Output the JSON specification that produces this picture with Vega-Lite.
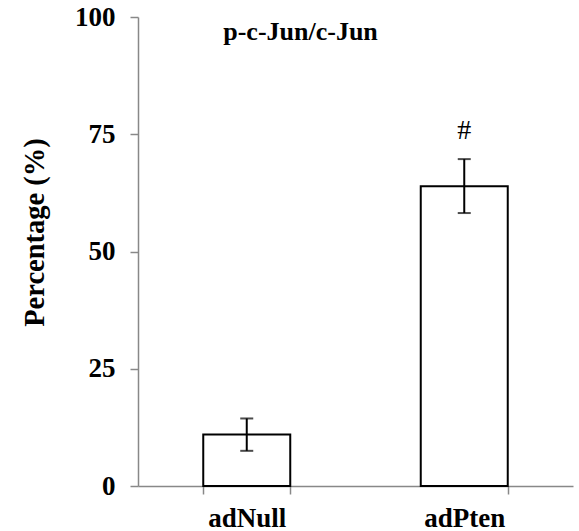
{
  "$schema": "https://vega.github.io/schema/vega-lite/v6.json",
  "width": 435,
  "height": 469,
  "autosize": "none",
  "padding": {"left": 138, "top": 17, "right": 6, "bottom": 45},
  "background": "white",
  "config": {
    "view": {"stroke": null},
    "font": "Liberation Serif",
    "axis": {
      "domainColor": "#888888",
      "tickColor": "#888888",
      "domainWidth": 1.5,
      "tickWidth": 1.5,
      "tickSize": 8,
      "grid": false,
      "labelFont": "Liberation Serif",
      "labelFontWeight": "bold",
      "labelColor": "black",
      "labelFontSize": 27,
      "titleFont": "Liberation Serif",
      "titleFontWeight": "bold",
      "titleColor": "black"
    }
  },
  "title": {
    "text": "p-c-Jun/c-Jun",
    "anchor": "middle",
    "orient": "top",
    "dx": -55,
    "offset": -42,
    "fontSize": 26,
    "font": "Liberation Serif",
    "fontWeight": "bold",
    "color": "black"
  },
  "data": {
    "values": [
      {"group": "adNull", "value": 11.0, "lo": 7.5, "hi": 14.4, "sig": ""},
      {"group": "adPten", "value": 63.9, "lo": 58.2, "hi": 69.7, "sig": "#"}
    ]
  },
  "encoding": {
    "x": {
      "field": "group",
      "type": "nominal",
      "sort": null,
      "title": null,
      "scale": {"paddingInner": 0.6, "paddingOuter": 0.3},
      "axis": {"labelAngle": 0, "tickBand": "extent", "labelPadding": 11}
    }
  },
  "layer": [
    {
      "mark": {"type": "bar", "fill": "white", "stroke": "black", "strokeWidth": 2},
      "encoding": {
        "y": {
          "field": "value",
          "type": "quantitative",
          "title": "Percentage (%)",
          "scale": {"domain": [0, 100]},
          "axis": {"values": [0, 25, 50, 75, 100], "labelPadding": 15, "titleFontSize": 28.5, "titlePadding": 25, "titleY": 215}
        }
      }
    },
    {
      "mark": {"type": "rule", "color": "black", "strokeWidth": 2},
      "encoding": {
        "y": {"field": "lo", "type": "quantitative"},
        "y2": {"field": "hi"}
      }
    },
    {
      "mark": {"type": "tick", "color": "black", "thickness": 2, "size": 13, "orient": "horizontal"},
      "encoding": {"y": {"field": "lo", "type": "quantitative"}}
    },
    {
      "mark": {"type": "tick", "color": "black", "thickness": 2, "size": 13, "orient": "horizontal"},
      "encoding": {"y": {"field": "hi", "type": "quantitative"}}
    },
    {
      "mark": {"type": "text", "baseline": "alphabetic", "dy": -20, "fontSize": 28, "font": "Liberation Serif", "color": "black"},
      "encoding": {
        "y": {"field": "hi", "type": "quantitative"},
        "text": {"field": "sig"}
      }
    }
  ]
}
